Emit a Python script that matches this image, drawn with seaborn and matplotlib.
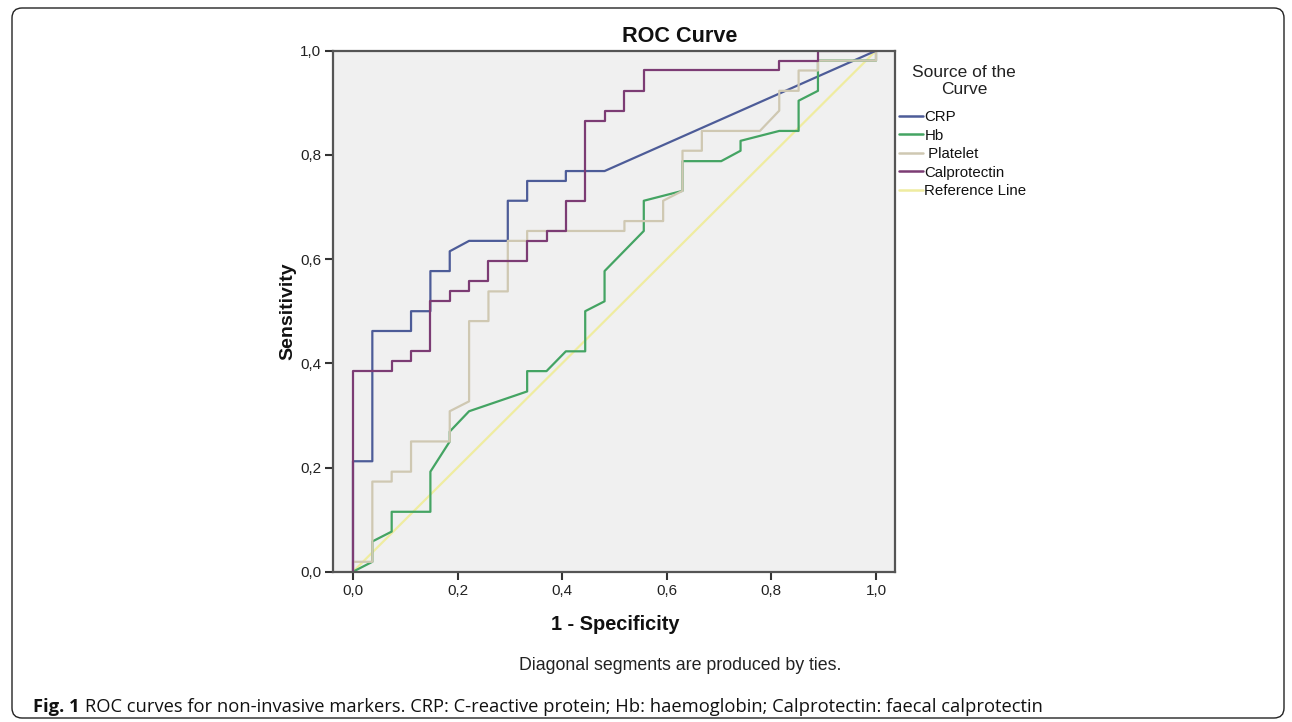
import matplotlib
matplotlib.use("Agg")
import matplotlib.pyplot as plt
import seaborn as sns
import pandas as pd
from matplotlib.patches import FancyBboxPatch
from matplotlib.lines import Line2D

# ---------------- data ----------------
crp_fpr = [0, 0, 0.037, 0.037, 0.111, 0.111, 0.148, 0.148, 0.185, 0.185, 0.222,
           0.296, 0.296, 0.333, 0.333, 0.407, 0.407, 0.481, 1.0]
crp_tpr = [0, 0.212, 0.212, 0.462, 0.462, 0.5, 0.5, 0.577, 0.577, 0.615, 0.635,
           0.635, 0.712, 0.712, 0.75, 0.75, 0.769, 0.769, 1.0]

hb_fpr = [0, 0.037, 0.037, 0.074, 0.074, 0.148, 0.148, 0.185, 0.185, 0.222, 0.333,
          0.333, 0.370, 0.407, 0.444, 0.444, 0.481, 0.481, 0.556, 0.556, 0.630,
          0.630, 0.704, 0.741, 0.741, 0.815, 0.852, 0.852, 0.889, 0.889, 1.0, 1.0]
hb_tpr = [0, 0.019, 0.058, 0.077, 0.115, 0.115, 0.192, 0.25, 0.269, 0.308, 0.346,
          0.385, 0.385, 0.423, 0.423, 0.5, 0.519, 0.577, 0.654, 0.712, 0.731,
          0.788, 0.788, 0.808, 0.827, 0.846, 0.846, 0.904, 0.923, 0.981, 0.981, 1.0]

plt_fpr = [0, 0, 0.037, 0.037, 0.074, 0.074, 0.111, 0.111, 0.185, 0.185, 0.222,
           0.222, 0.259, 0.259, 0.296, 0.296, 0.333, 0.333, 0.519, 0.519, 0.593,
           0.593, 0.630, 0.630, 0.667, 0.667, 0.778, 0.815, 0.815, 0.852, 0.852,
           0.889, 0.889, 1.0, 1.0]
plt_tpr = [0, 0.019, 0.019, 0.173, 0.173, 0.192, 0.192, 0.25, 0.25, 0.308, 0.327,
           0.481, 0.481, 0.538, 0.538, 0.635, 0.635, 0.654, 0.654, 0.673, 0.673,
           0.712, 0.731, 0.808, 0.808, 0.846, 0.846, 0.885, 0.923, 0.923, 0.962,
           0.962, 0.981, 0.981, 1.0]

cal_fpr = [0, 0, 0.074, 0.074, 0.111, 0.111, 0.148, 0.148, 0.185, 0.185, 0.222,
           0.222, 0.259, 0.259, 0.333, 0.333, 0.370, 0.370, 0.407, 0.407, 0.444,
           0.444, 0.481, 0.481, 0.519, 0.519, 0.556, 0.556, 0.815, 0.815, 0.889,
           0.889, 1.0]
cal_tpr = [0, 0.385, 0.385, 0.404, 0.404, 0.423, 0.423, 0.519, 0.519, 0.538, 0.538,
           0.558, 0.558, 0.596, 0.596, 0.635, 0.635, 0.654, 0.654, 0.712, 0.712,
           0.865, 0.865, 0.885, 0.885, 0.923, 0.923, 0.962, 0.962, 0.981, 0.981,
           1.0, 1.0]

ref_fpr = [0, 1.0]
ref_tpr = [0, 1.0]

series_names = ["CRP", "Hb", "Platelet", "Calprotectin", "Reference Line"]
legend_labels = ["CRP", "Hb", " Platelet", "Calprotectin", "Reference Line"]
series_colors = ["#4d5c98", "#44a463", "#cfc8b2", "#7c3c74", "#efeca0"]
x_ticks = [0.0, 0.2, 0.4, 0.6, 0.8, 1.0]
tick_labels = ["0,0", "0,2", "0,4", "0,6", "0,8", "1,0"]

# ---------------- build long-form table ----------------
frames = []
for name, xs, ys in zip(series_names,
                        [crp_fpr, hb_fpr, plt_fpr, cal_fpr, ref_fpr],
                        [crp_tpr, hb_tpr, plt_tpr, cal_tpr, ref_tpr]):
    frames.append(pd.DataFrame({"fpr": xs, "tpr": ys, "Source": name}))
df = pd.concat(frames, ignore_index=True)
palette = dict(zip(series_names, series_colors))

sns.set_style("white")
plt.rcParams["font.family"] = ["Liberation Sans", "DejaVu Sans"]

W, H = 1292, 722
fig = plt.figure(figsize=(W / 100, H / 100), dpi=100)
fig.patch.set_facecolor("white")

# axes: left 333 px, right 895 px, top 50.7 px, bottom 571.7 px
ax = fig.add_axes([333 / W, 1 - 571.7 / H, (895 - 333) / W, (571.7 - 50.7) / H])
ax.set_facecolor("#f0f0f0")

sns.lineplot(data=df, x="fpr", y="tpr", hue="Source", hue_order=series_names,
             palette=palette, estimator=None, sort=False,
             linewidth=1.6, legend=False, ax=ax)

# put reference line underneath the curves
for ln in ax.lines:
    if matplotlib.colors.to_hex(ln.get_color()) == series_colors[4]:
        ln.set_zorder(1.5)

ax.set_xlim(-0.0382, 1.0363)
ax.set_ylim(0, 1.0)
ax.set_xticks(x_ticks)
ax.set_xticklabels(tick_labels)
ax.set_yticks(x_ticks)
ax.set_yticklabels(tick_labels)
ax.tick_params(axis="both", direction="out", length=6, width=1.5, color="#333333",
               labelsize=11, labelcolor="#222222", pad=2.5)
ax.tick_params(axis="x", bottom=True)
ax.tick_params(axis="y", left=True)
for s in ax.spines.values():
    s.set_visible(True)
    s.set_color("#555555")
    s.set_linewidth(1.6)
ax.set_xlabel("")
ax.set_ylabel("")

# axis titles
fig.text(615 / W, 1 - 625 / H, "1 - Specificity", ha="center", va="center",
         fontsize=14.4, fontweight="bold", color="#111111")
fig.text(288 / W, 1 - 311 / H, "Sensitivity", ha="center", va="center",
         rotation=90, fontsize=14, fontweight="bold", color="#111111")
fig.text(680 / W, 1 - 37 / H, "ROC Curve", ha="center", va="center",
         fontsize=15.6, fontweight="bold", color="#111111")

# legend title (separate text) and entries
fig.text(964 / W, 1 - 81 / H, "Source of the\nCurve", ha="center", va="center",
         multialignment="center", fontsize=12.5, color="#222222", linespacing=1.15)
handles = [Line2D([0], [0], color=c, lw=1.8) for c in series_colors]
leg = fig.legend(handles, legend_labels, loc="upper left",
                 bbox_to_anchor=(899 / W, 1 - 110 / H), frameon=False,
                 fontsize=10.8, handlelength=1.6, handletextpad=0.1,
                 labelspacing=0.3, borderpad=0, borderaxespad=0)
for t in leg.get_texts():
    t.set_color("#111111")

# footnote
fig.text(680 / W, 1 - 665 / H, "Diagonal segments are produced by ties.",
         ha="center", va="center", fontsize=12.8, color="#222222")

# caption
cap_y = 1 - 707 / H
t1 = fig.text(33 / W, cap_y, "Fig. 1", ha="left", va="center", fontsize=13.2,
              fontweight="bold", family=["Open Sans", "DejaVu Sans"], color="#111111")
renderer = fig.canvas.get_renderer()
bb = t1.get_window_extent(renderer=renderer)
fig.text((bb.x1 + 5) / W, cap_y,
         "ROC curves for non-invasive markers. CRP: C-reactive protein; Hb: haemoglobin; "
         "Calprotectin: faecal calprotectin",
         ha="left", va="center", fontsize=13.2, family=["Open Sans", "DejaVu Sans"],
         color="#111111")

# page frame
frame = FancyBboxPatch((12, 4), 1272, 710, boxstyle="round,pad=0,rounding_size=10",
                       transform=None, facecolor="none", edgecolor="#222222",
                       linewidth=1.0)
fig.patches.append(frame)

fig.savefig("out.png", dpi=100)
